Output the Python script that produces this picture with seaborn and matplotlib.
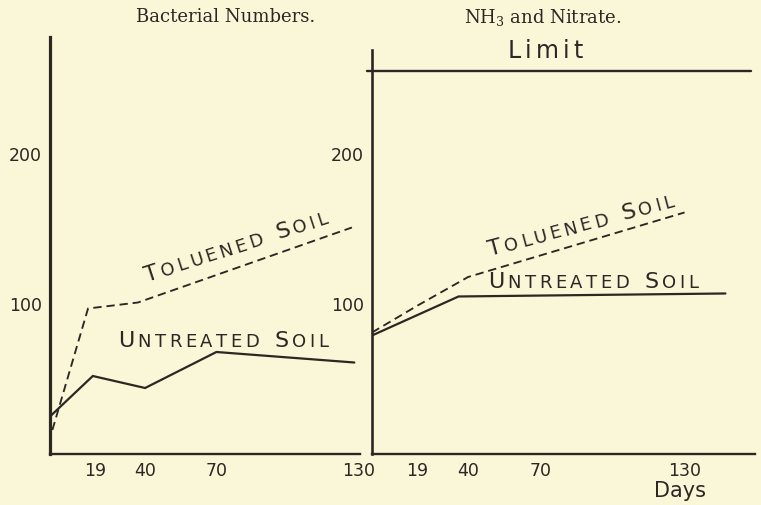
import numpy as np
import pandas as pd
import seaborn as sns
import matplotlib
matplotlib.use("Agg")
import matplotlib.pyplot as plt
import matplotlib.transforms as mtransforms
from matplotlib.textpath import TextToPath
from matplotlib.font_manager import FontProperties

# Bacterial numbers in soil (left panel)
bact_days_untreated = [0, 18, 40, 70, 128]
bact_untreated = [25, 52, 44, 68, 61]
bact_days_toluened = [1, 16, 37, 127]
bact_toluened = [16, 97, 101, 151]

# Ammonia + nitrate (right panel)
nitro_days_untreated = [0, 36, 147]
nitro_untreated = [79, 105, 107]
nitro_days_toluened = [0, 19, 40, 130]
nitro_toluened = [81, 99, 118, 161]
nitro_limit = 255

day_ticks = [19, 40, 70, 130]
value_ticks = [100, 200]

PAPER = "#FAF7D8"
INK = "#2B2724"
SANS = "DejaVu Sans"
SERIF = "DejaVu Serif"

sns.set_theme(style="white")
plt.rcParams["font.family"] = [SANS]
plt.rcParams["mathtext.fontset"] = "dejavuserif"
plt.rcParams["lines.scale_dashes"] = False
plt.rcParams["text.color"] = INK

W, H = 761, 505
fig = plt.figure(figsize=(W / 100, H / 100), dpi=100, facecolor=PAPER)


def px_axes(x0, x1, y_top, y_bot):
    return fig.add_axes([x0 / W, 1 - y_bot / H, (x1 - x0) / W, (y_bot - y_top) / H])


ax1 = px_axes(50, 360, 37, 454)
ax2 = px_axes(372, 755, 50, 454)


def style_axes(ax, xmax, ymax, lw_left):
    ax.set_facecolor("none")
    ax.set_xlim(0, xmax)
    ax.set_ylim(0, ymax)
    for side in ("top", "right"):
        ax.spines[side].set_visible(False)
    ax.spines["left"].set_linewidth(lw_left)
    ax.spines["bottom"].set_linewidth(1.7)
    for side in ("left", "bottom"):
        ax.spines[side].set_color(INK)
    ax.set_xticks(day_ticks)
    ax.set_yticks(value_ticks)
    ax.tick_params(axis="x", direction="in", length=4.5, width=1.3, pad=6,
                   labelsize=12.5, colors=INK)
    ax.tick_params(axis="y", direction="in", length=5, width=1.3, pad=6,
                   labelsize=12.5, colors=INK)
    ax.set_xlabel("")
    ax.set_ylabel("")
    ax.grid(False)


def draw_series(ax, days, values, dashed=False):
    sns.lineplot(x=days, y=values, ax=ax, color=INK,
                 linewidth=1.35 if dashed else 1.6, sort=False)
    line = ax.lines[-1]
    if dashed:
        line.set_dashes((6, 3.5))
    line.set_solid_joinstyle("miter")


_ttp = TextToPath()


def lettering(ax, x, y, text, size, small=None, angle=0.0, track=0.0):
    """Hand-lettered label: letter by letter along a rotated baseline.
    With `small`, lowercase letters are set as small capitals."""
    th = np.deg2rad(angle)
    pos = 0.0
    for ch in text:
        if ch == " ":
            pos += (small or size) * 0.45 + track
            continue
        if small is not None and ch.islower():
            glyph, fs = ch.upper(), small
        else:
            glyph, fs = ch, size
        off = mtransforms.offset_copy(ax.transData, fig=fig,
                                      x=pos * np.cos(th), y=pos * np.sin(th),
                                      units="points")
        ax.text(x, y, glyph, fontsize=fs, family=SANS, color=INK,
                rotation=angle, rotation_mode="anchor",
                ha="left", va="baseline", transform=off, clip_on=False)
        w = _ttp.get_text_width_height_descent(
            glyph, FontProperties(family=SANS, size=fs), ismath=False)[0]
        pos += w + track


# Left panel: bacterial numbers
style_axes(ax1, 130.4, 278, 2.3)
draw_series(ax1, bact_days_untreated, bact_untreated)
draw_series(ax1, bact_days_toluened, bact_toluened, dashed=True)
lettering(ax1, 40.8, 114.7, "Toluened Soil", 16, small=13, angle=18, track=2.3)
lettering(ax1, 28.6, 71.3, "Untreated Soil", 16, small=13, track=2.5)

# Right panel: NH3 and nitrate
style_axes(ax2, 159.3, 269.3, 1.9)
draw_series(ax2, nitro_days_untreated, nitro_untreated)
draw_series(ax2, nitro_days_toluened, nitro_toluened, dashed=True)
ax2.axhline(nitro_limit, xmin=-0.014, xmax=0.99, color=INK, lw=1.7, clip_on=False)
lettering(ax2, 56.5, 264, "Limit", 17, track=3.0)
lettering(ax2, 49, 132, "Toluened Soil", 16, small=13, angle=15, track=2.3)
lettering(ax2, 48.2, 110.7, "Untreated Soil", 16, small=13, track=2.5)

# Panel headings and the shared axis caption
fig.text(226 / W, 1 - 17 / H, "Bacterial Numbers.", family=SERIF, fontsize=13,
         ha="center", va="center", color=INK)
fig.text(543 / W, 1 - 17 / H, r"NH$_3$ and Nitrate.", family=SERIF, fontsize=13,
         ha="center", va="center", color=INK)
fig.text(680 / W, 1 - 497 / H, "Days", fontsize=15, ha="center", va="baseline",
         color=INK)

fig.savefig("out.png", dpi=100, facecolor=PAPER)
